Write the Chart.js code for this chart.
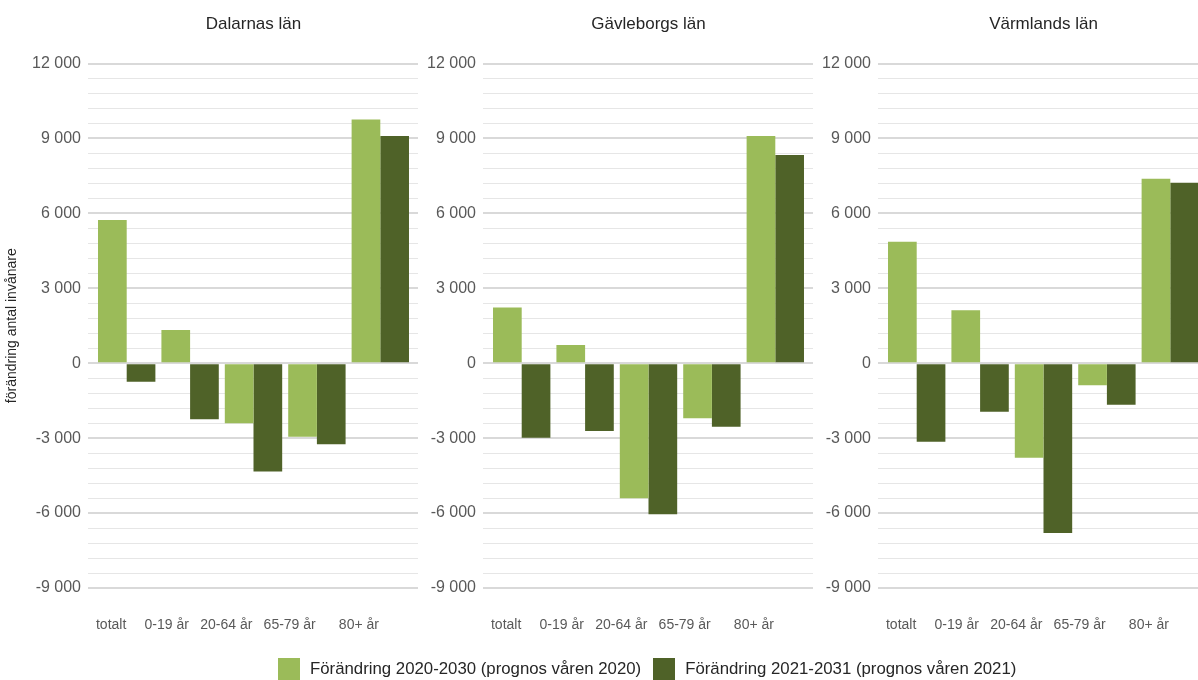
<!DOCTYPE html>
<html lang="sv">
<head>
<meta charset="utf-8">
<title>Förändring antal invånare</title>
<script src="https://cdn.jsdelivr.net/npm/chart.js@4.4.1/dist/chart.umd.min.js"></script>
<style>
  html, body { margin: 0; padding: 0; background: #fff; }
  #wrap { position: relative; width: 1198px; height: 680px; overflow: hidden;
          font-family: 'Liberation Sans', Arial, sans-serif; }
  #wrap canvas { position: absolute; top: 0; }
  #legend { position: absolute; left: 278px; top: 658px; display: flex; align-items: center;
            font-size: 16.8px; color: #262626; white-space: nowrap; }
  #legend .box { width: 22px; height: 22px; margin-right: 10px; }
  #legend .item { display: flex; align-items: center; margin-right: 12px; line-height: 22px; }
</style>
</head>
<body>
<div id="wrap">
  <canvas id="c0" width="420" height="664" style="left:0px"></canvas>
  <canvas id="c1" width="420" height="664" style="left:395px"></canvas>
  <canvas id="c2" width="420" height="664" style="left:790px"></canvas>
  <div id="legend"></div>
</div>
<script>
// data
const categories = ['totalt', '0-19 år', '20-64 år', '65-79 år', '80+ år'];
const regions = ['Dalarnas län', 'Gävleborgs län', 'Värmlands län'];
const seriesNames = ['Förändring 2020-2030 (prognos våren 2020)', 'Förändring 2021-2031 (prognos våren 2021)'];

const dalarna2020 = [5730, 1330, -2400, -2940, 9760];
const dalarna2021 = [-740, -2240, -4340, -3245, 9100];
const gavleborg2020 = [2230, 730, -5410, -2200, 9100];
const gavleborg2021 = [-2980, -2710, -6050, -2540, 8340];
const varmland2020 = [4860, 2120, -3790, -880, 7390];
const varmland2021 = [-3140, -1940, -6800, -1660, 7230];

const yMin = -9000, yMax = 12000, yStep = 600, yMajor = 3000;

// style
const colors = ['#9bbb59', '#4f6228'];
const labelPad = [8, 12, 14, 14, 11];   // excel leaves the x labels left of the bars
const FONT = "'Liberation Sans', Arial, sans-serif";

const panels = [
  [dalarna2020, dalarna2021],
  [gavleborg2020, gavleborg2021],
  [varmland2020, varmland2021]
];

function fmt(v) {
  const s = String(Math.abs(v)).replace(/\B(?=(\d{3})+(?!\d))/g, ' ');
  return (v < 0 ? '-' : '') + s;
}
const isMajor = v => Math.abs(v) % yMajor === 0;
const gridColor = v => isMajor(v) ? '#d9d9d9' : '#e6e6e6';
const gridWidth = v => isMajor(v) ? 2 : 1;

// gridlines in the reference run a little past the last bar
const extendGrid = {
  id: 'extendGrid',
  beforeDatasetsDraw(chart) {
    const { ctx, chartArea, scales } = chart;
    const y = scales.y;
    ctx.save();
    y.ticks.forEach(t => {
      const w = gridWidth(t.value);
      const p = Math.round(y.getPixelForValue(t.value) - w / 2) + w / 2;
      ctx.strokeStyle = gridColor(t.value);
      ctx.lineWidth = w;
      ctx.beginPath();
      ctx.moveTo(chartArea.right, p);
      ctx.lineTo(chartArea.right + 6, p);
      ctx.stroke();
    });
    ctx.restore();
  }
};

panels.forEach((series, i) => {
  new Chart(document.getElementById('c' + i), {
    type: 'bar',
    data: {
      labels: categories,
      datasets: series.map((vals, k) => ({
        label: seriesNames[k],
        data: vals,
        backgroundColor: colors[k],
        borderWidth: 0,
        categoryPercentage: 0.905,
        barPercentage: 1.0
      }))
    },
    options: {
      responsive: false,
      animation: false,
      devicePixelRatio: 1,
      layout: { padding: { top: 0, right: 8, bottom: 1.2, left: 0 } },
      plugins: {
        legend: { display: false },
        tooltip: { enabled: false },
        title: {
          display: true,
          text: regions[i],
          fullSize: false,
          color: '#262626',
          font: { family: FONT, size: 17, weight: 'normal' },
          padding: { top: 14.5, bottom: 28.6 }
        }
      },
      scales: {
        x: {
          grid: { display: false, drawTicks: false },
          border: { display: false },
          ticks: {
            color: '#595959',
            font: { family: FONT, size: 14 },
            padding: 29,
            maxRotation: 0,
            minRotation: 0,
            autoSkip: false,
            callback: (v, idx) => categories[idx] + '\u00a0'.repeat(labelPad[idx])
          },
          afterFit: s => { s.paddingLeft = 0; s.paddingRight = 0; }
        },
        y: {
          min: yMin,
          max: yMax,
          border: { display: false },
          grid: {
            color: c => gridColor(c.tick.value),
            lineWidth: c => gridWidth(c.tick.value),
            drawTicks: true,
            tickLength: 7
          },
          ticks: {
            stepSize: yStep,
            autoSkip: false,
            padding: 7,
            color: '#595959',
            font: { family: FONT, size: 16 },
            callback: v => isMajor(v) ? fmt(v) : ''
          },
          title: {
            display: i === 0,
            text: 'förändring antal invånare',
            color: '#262626',
            font: { family: FONT, size: 14 },
            padding: { top: 4, bottom: 0 }
          },
          afterFit: s => { s.width = 95; }
        }
      }
    },
    plugins: [extendGrid]
  });
});

// legend
const legend = document.getElementById('legend');
seriesNames.forEach((name, k) => {
  const item = document.createElement('div');
  item.className = 'item';
  const box = document.createElement('span');
  box.className = 'box';
  box.style.background = colors[k];
  const txt = document.createElement('span');
  txt.textContent = name;
  item.appendChild(box);
  item.appendChild(txt);
  legend.appendChild(item);
});
</script>
</body>
</html>
